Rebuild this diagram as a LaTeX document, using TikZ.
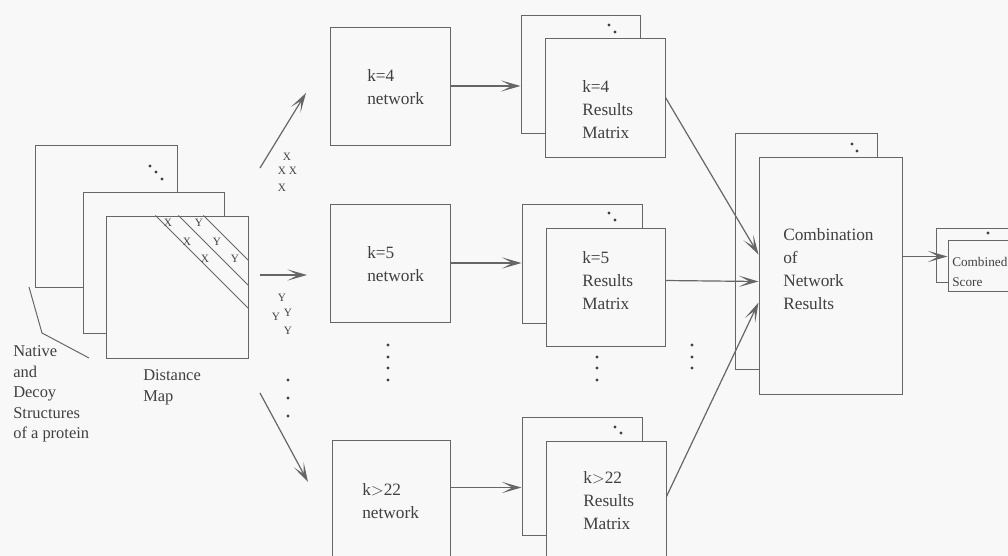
\documentclass[tikz,border=0pt]{standalone}
\usepackage{fontspec}
\setmainfont{Liberation Serif}
\usetikzlibrary{arrows.meta,fit,calc}
\definecolor{paper}{HTML}{F8F8F8}
\definecolor{linec}{HTML}{666666}
\definecolor{textc}{HTML}{404040}

\begin{document}
\begin{tikzpicture}[x=0.025cm,y=-0.025cm,
  ink/.style={draw=linec, line width=0.7pt},
  sheet/.style={ink, fill=paper, inner sep=0pt, rectangle},
  arr/.style={ink, line width=0.85pt, -{Stealth[length=14pt,width=8pt,inset=7.5pt]}},
  lbl/.style={inner sep=0pt, anchor=west, align=left, text=textc,
              font=\fontsize{12.3}{16.3}\selectfont},
  side/.style={lbl, font=\fontsize{11.7}{14.6}\selectfont},
  small/.style={lbl, font=\fontsize{9.4}{14}\selectfont},
  xymark/.style={inner sep=0pt, text=textc, font=\fontsize{8}{8}\selectfont},
  tinymark/.style={inner sep=0pt, text=textc, font=\fontsize{8}{8}\selectfont},
  pt/.style={fill=textc}
]
\useasboundingbox (0,0) rectangle (1008,556);
\clip (0,0) rectangle (1008,556);
\fill[paper] (0,0) rectangle (1008,556);

% ---- stack of structures and the distance map ----
\node[sheet, fit={(35,145)(177,287)}] (mapb) {};
\fill[pt] (150,166) circle (1.1pt) (156,172) circle (1.1pt) (162,179) circle (1.1pt);
\node[sheet, fit={(83,192)(224,333)}] (mapm) {};
\node[sheet, fit={(106,216)(248,358)}] (mapf) {};
\draw[ink] ($(mapf.north east)+(-93,0)$) -- ($(mapf.north east)+(0,93)$);
\draw[ink] ($(mapf.north east)+(-70,0)$) -- ($(mapf.north east)+(0,70)$);
\draw[ink] ($(mapf.north east)+(-45,0)$) -- ($(mapf.north east)+(0,45)$);
\node[tinymark] (x1) at (168,223) {X};
\node[tinymark] (x2) at (187,242) {X};
\node[tinymark] (x3) at (205,259) {X};
\node[tinymark] (y1) at (199,223) {Y};
\node[tinymark] (y2) at (217,242) {Y};
\node[tinymark] (y3) at (235,259) {Y};

\node[side] (native) at (13,394) {Native\\and\\Decoy\\Structures\\of a protein};
\node[side, font=\fontsize{11.7}{14.9}\selectfont] (dmap) at (143,387.5) {Distance\\Map};
\coordinate (lead0) at (29,287);
\coordinate (lead1) at (42,333);
\coordinate (lead2) at (89,358);
\draw[ink] (lead0) -- (lead1) -- (lead2);

% ---- map to the networks ----
\coordinate (a1s) at (260,168); \coordinate (a1e) at (306,93);
\coordinate (a2s) at (260,275); \coordinate (a2e) at (307,275);
\coordinate (a3s) at (260,393); \coordinate (a3e) at (308,482);
\draw[arr] (a1s) -- (a1e);
\draw[arr] (a2s) -- (a2e);
\draw[arr] (a3s) -- (a3e);
\node[xymark] (xa) at (287,157) {X};
\node[xymark] (xb) at (282,171) {X};
\node[xymark] (xc) at (293,171) {X};
\node[xymark] (xd) at (282,188) {X};
\node[xymark] (ya) at (282,298) {Y};
\node[xymark] (yb) at (288,313) {Y};
\node[xymark] (yc) at (276,317) {Y};
\node[xymark] (yd) at (288,331) {Y};
\fill[pt] (288,380) circle (1.1pt) (288,398) circle (1.1pt) (288,416) circle (1.1pt);

% ---- networks ----
\node[sheet, fit={(330,27)(450,145)}] (net4) {};
\node[sheet, fit={(330,204)(450,322)}] (net5) {};
\node[sheet, fit={(332,440)(450,600)}] (net22) {};
\node[lbl] (net4t) at (367,87.5) {k=4\\network};
\node[lbl] (net5t) at (367,264) {k=5\\network};
\node[lbl] (net22t) at (362,501.5) {k$>$22\\network};
\fill[pt] (388,345) circle (1.1pt) (388,357) circle (1.1pt) (388,368) circle (1.1pt) (388,380) circle (1.1pt);

% ---- results matrices ----
\node[sheet, fit={(521,15)(640,133)}] (res4b) {};
\fill[pt] (609,25) circle (1.1pt) (615,32) circle (1.1pt);
\node[sheet, fit={(545,38)(665,157)}] (res4f) {};
\node[sheet, fit={(522,204)(642,323)}] (res5b) {};
\fill[pt] (609,213) circle (1.1pt) (615,220) circle (1.1pt);
\node[sheet, fit={(546,228)(665,346)}] (res5f) {};
\node[sheet, fit={(522,417)(642,535)}] (res22b) {};
\fill[pt] (615,427) circle (1.1pt) (621,433) circle (1.1pt);
\node[sheet, fit={(546,441)(666,600)}] (res22f) {};
\node[lbl] (res4t) at (582,110) {k=4\\Results\\Matrix};
\node[lbl] (res5t) at (582,280.5) {k=5\\Results\\Matrix};
\node[lbl] (res22t) at (583,500.5) {k$>$22\\Results\\Matrix};
\fill[pt] (597,357) circle (1.1pt) (597,368) circle (1.1pt) (597,380) circle (1.1pt);
\fill[pt] (692,345) circle (1.1pt) (692,357) circle (1.1pt) (692,368) circle (1.1pt);

\draw[arr] (net4.east) -- (net4.east -| res4b.west);
\draw[arr] (net5.east) -- (net5.east -| res5b.west);
\coordinate (n22o) at ($(net22.north east)+(0,48)$);
\draw[arr] (n22o) -- (n22o -| res22b.west);

% ---- combination ----
\node[sheet, fit={(735,133)(877,369)}] (combb) {};
\fill[pt] (852,144) circle (1.1pt) (857,151) circle (1.1pt);
\node[sheet, fit={(759,157)(902,394)}] (combf) {};
\node[lbl] (combt) at (783,269) {Combination\\of\\Network\\Results};

\draw[arr] ($(res4f.north east)+(0,60)$) -- ($(combf.north west)+(0,98)$);
\draw[arr] ($(res5f.north east)+(0,53)$) -- ($(combf.north west)+(0,125)$);
\draw[arr] ($(res22f.north east)+(0,56)$) -- ($(combf.north west)+(0,146)$);

% ---- combined score ----
\node[sheet, fit={(936,228)(1030,282)}] (scoreb) {};
\fill[pt] (988,233) circle (1.1pt);
\node[sheet, fit={(948,240)(1030,291)}] (scoref) {};
\node[small] (scoret) at (952,272) {Combined\\Score};
\coordinate (scin) at ($(scoref.north west)+(0,17)$);
\draw[arr] (combf.east |- scin) -- (scin);
\end{tikzpicture}
\end{document}
